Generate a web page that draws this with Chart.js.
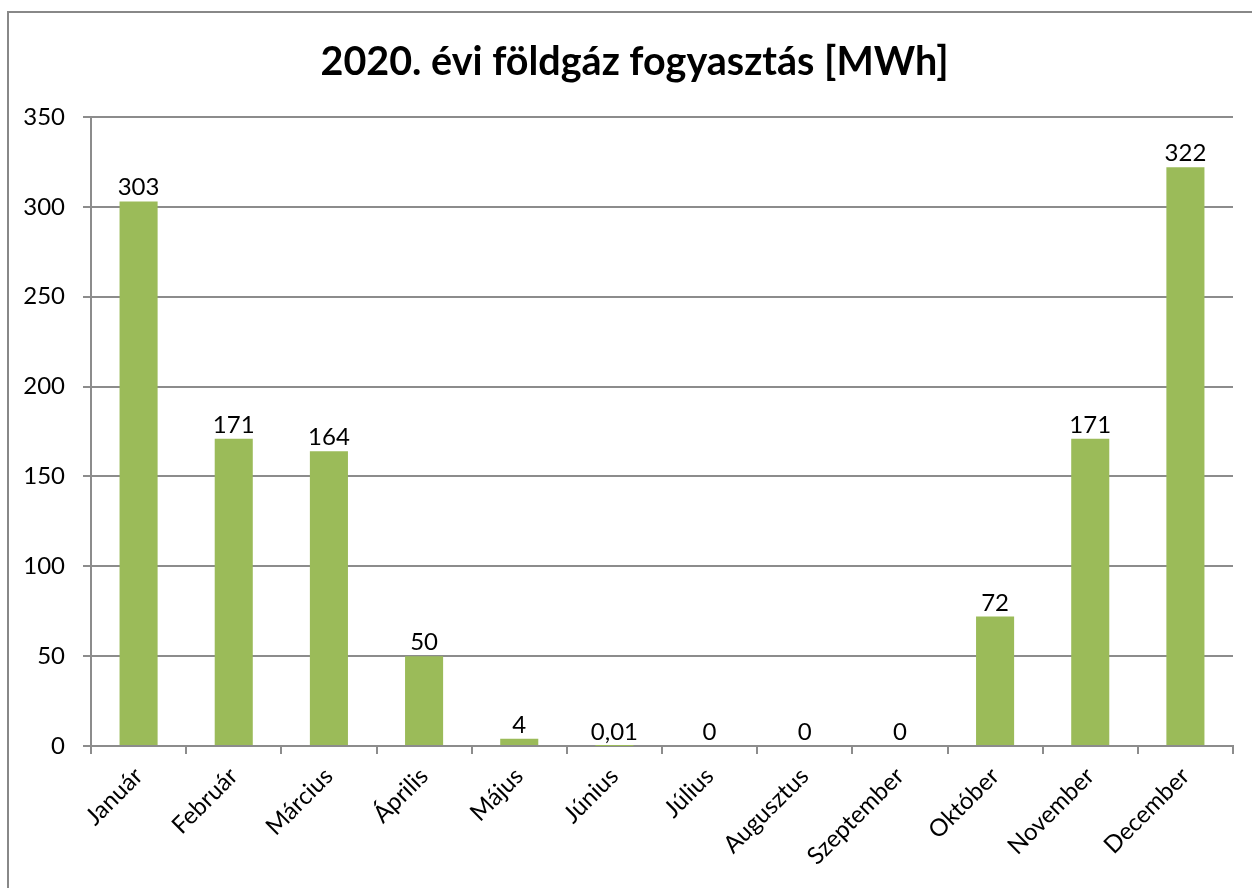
<!DOCTYPE html>
<html>
<head>
<meta charset="utf-8">
<script src="https://cdn.jsdelivr.net/npm/chart.js@4.4.1/dist/chart.umd.min.js"></script>
<style>
  html, body { margin: 0; padding: 0; background: #ffffff; overflow: hidden; }
  #wrap { position: relative; width: 1252px; height: 888px; }
  #frame { position: absolute; left: 7px; top: 11px; width: 1400px; height: 1000px;
           border-top: 2px solid #888888; border-left: 2px solid #888888; box-sizing: border-box; }
  canvas { position: absolute; left: 0; top: 0; }
</style>
</head>
<body>
<div id="wrap">
  <div id="frame"></div>
  <canvas id="c" width="1252" height="888"></canvas>
</div>
<script>
const titleText = '2020. évi földgáz fogyasztás [MWh]';
const months = ['Január','Február','Március','Április','Május','Június','Július','Augusztus','Szeptember','Október','November','December'];
const consumption = [303, 171, 164, 50, 4, 0.01, 0, 0, 0, 72, 171, 322];
const yTicks = [0, 50, 100, 150, 200, 250, 300, 350];

const FONT = 'Lato, "Open Sans", sans-serif';
const GRID = '#8c8c8c';

function fmt(v) { return String(v).replace('.', ','); }

const valueLabels = {
  id: 'valueLabels',
  afterDatasetsDraw(chart) {
    const ctx = chart.ctx;
    const meta = chart.getDatasetMeta(0);
    const data = chart.data.datasets[0].data;
    ctx.save();
    ctx.font = '24px ' + FONT;
    ctx.fillStyle = '#000000';
    ctx.textAlign = 'center';
    ctx.textBaseline = 'alphabetic';
    meta.data.forEach((bar, i) => {
      ctx.fillText(fmt(data[i]), bar.x, bar.y - 6);
    });
    ctx.restore();
  }
};

// Title centred on the outer chart frame (as in the reference)
const frameTitle = {
  id: 'frameTitle',
  afterDraw(chart) {
    const ctx = chart.ctx;
    ctx.save();
    ctx.font = 'bold 39.5px ' + FONT;
    ctx.fillStyle = '#000000';
    ctx.textAlign = 'center';
    ctx.textBaseline = 'middle';
    ctx.fillText(titleText, 634.5, 62);
    ctx.restore();
  }
};

new Chart(document.getElementById('c'), {
  type: 'bar',
  data: {
    labels: months,
    datasets: [{
      data: consumption,
      backgroundColor: '#9bbb59',
      borderWidth: 0,
      barPercentage: 0.4,
      categoryPercentage: 1.0
    }]
  },
  options: {
    responsive: false,
    animation: false,
    devicePixelRatio: 1,
    layout: { padding: { left: 0, right: 19, top: 117, bottom: 0 } },
    plugins: {
      legend: { display: false },
      tooltip: { enabled: false },
      title: { display: false }
    },
    scales: {
      x: {
        grid: { display: true, drawOnChartArea: false, drawTicks: true, tickLength: 8, color: GRID, lineWidth: 2, offset: true },
        border: { display: true, color: GRID, width: 2 },
        ticks: {
          color: '#000000',
          font: { family: FONT, size: 24 },
          minRotation: 45, maxRotation: 45,
          autoSkip: false,
          padding: 8
        },
        afterFit(scale) { scale.height = 142; }
      },
      y: {
        min: 0, max: 350,
        afterBuildTicks(scale) { scale.ticks = yTicks.map(v => ({ value: v })); },
        grid: { display: true, drawOnChartArea: true, drawTicks: true, tickLength: 8, color: GRID, lineWidth: 2 },
        border: { display: true, color: GRID, width: 2 },
        ticks: {
          color: '#000000',
          font: { family: FONT, size: 24 },
          padding: 18
        },
        afterFit(scale) { scale.width = 91; }
      }
    }
  },
  plugins: [valueLabels, frameTitle]
});
</script>
</body>
</html>
